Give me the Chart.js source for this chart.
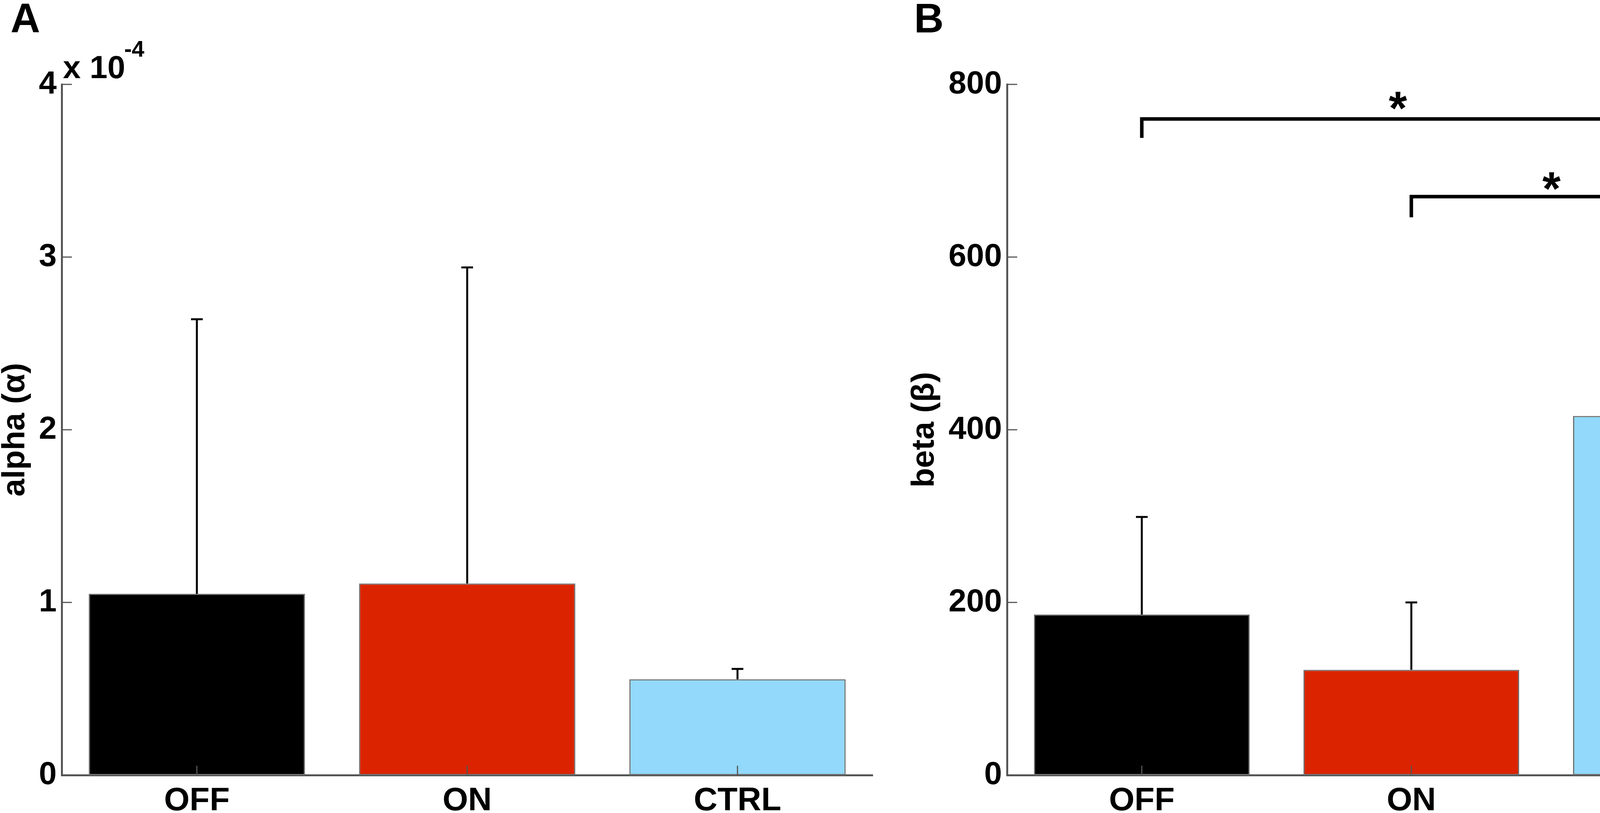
<!DOCTYPE html>
<html><head><meta charset="utf-8">
<script src="https://cdn.jsdelivr.net/npm/chart.js@4.4.1/dist/chart.umd.min.js"></script>
<style>
html,body{margin:0;padding:0;background:#fff;width:4663px;height:2081px;overflow:hidden}
canvas{position:absolute;top:0}
#cA{left:0}
#cB{left:2300px}
</style></head><body>
<canvas id="cA" width="2300" height="2081"></canvas>
<canvas id="cB" width="2363" height="2081"></canvas>
<script>
// ---------- data ----------
const categories = ['OFF', 'ON', 'CTRL'];
const barColors = ['#000000', '#DC2300', '#92D9FB'];

const alphaMultiplier = 1e-4;
const alphaMeans  = [1.05e-4, 1.11e-4, 0.555e-4];
const alphaErrors = [1.59e-4, 1.83e-4, 0.06e-4];
const alphaTicks  = [0, 1, 2, 3, 4];

const betaMeans  = [186, 122, 416];
const betaErrors = [113, 78, 204];
const betaTicks  = [0, 200, 400, 600, 800];

// significance brackets (panel B)
const sigFrom  = [0, 1];
const sigTo    = [2, 2];
const sigLevel = [760, 670];
const sigDrop  = [22, 24];
const sigStarX = [0.95, 1.52];
const sigStarY = [781, 688];
const sigLabel = ['*', '*'];

// ---------- styling ----------
const FONT = "'Liberation Sans', Arial, Helvetica, sans-serif";
const AXIS_COLOR = '#555555';

const errorBarPlugin = {
  id: 'errbars',
  afterDatasetsDraw(chart, args, o) {
    const {ctx, chartArea} = chart;
    const x = chart.scales.x, y = chart.scales.y;
    ctx.save();
    ctx.strokeStyle = '#000';
    ctx.lineCap = 'butt';
    o.means.forEach((m, i) => {
      const px = x.getPixelForValue(i);
      const y0 = y.getPixelForValue(m);
      const y1 = y.getPixelForValue(m + o.errors[i]);
      ctx.lineWidth = 5;
      ctx.beginPath(); ctx.moveTo(px, y0); ctx.lineTo(px, y1); ctx.stroke();
      ctx.beginPath(); ctx.moveTo(px - 15, y1); ctx.lineTo(px + 15, y1); ctx.stroke();
    });
    // inward tick marks
    ctx.strokeStyle = AXIS_COLOR;
    ctx.lineWidth = 3;
    y.ticks.forEach((t, i) => {
      const py = y.getPixelForTick(i);
      ctx.beginPath(); ctx.moveTo(chartArea.left, py); ctx.lineTo(chartArea.left + 26, py); ctx.stroke();
    });
    x.ticks.forEach((t, i) => {
      const px = x.getPixelForTick(i);
      ctx.beginPath(); ctx.moveTo(px, chartArea.bottom); ctx.lineTo(px, chartArea.bottom - 24); ctx.stroke();
    });
    ctx.restore();
  }
};

const decorPlugin = {
  id: 'decor',
  afterDraw(chart, args, o) {
    const {ctx, chartArea} = chart;
    ctx.save();
    ctx.fillStyle = '#000';
    ctx.textAlign = 'left';
    ctx.textBaseline = 'alphabetic';
    ctx.font = 'bold 105px ' + FONT;
    ctx.fillText(o.letter, o.letterX, 83);
    if (o.multiplier) {
      ctx.font = 'bold 82px ' + FONT;
      ctx.fillText('x 10', chartArea.left + 3, chartArea.top - 16);
      ctx.font = 'bold 58px ' + FONT;
      ctx.fillText('-4', chartArea.left + 160, chartArea.top - 71);
    }
    if (o.brackets) {
      const x = chart.scales.x, y = chart.scales.y;
      const p0 = x.getPixelForValue(0), p1 = x.getPixelForValue(1);
      const cat = v => p0 + v * (p1 - p0);
      ctx.strokeStyle = '#000';
      ctx.lineWidth = 9;
      ctx.lineCap = 'butt';
      ctx.lineJoin = 'miter';
      sigFrom.forEach((f, i) => {
        const xa = x.getPixelForValue(f), xb = x.getPixelForValue(sigTo[i]);
        const yt = y.getPixelForValue(sigLevel[i]);
        const yb = y.getPixelForValue(sigLevel[i] - sigDrop[i]);
        ctx.beginPath();
        ctx.moveTo(xa, yb); ctx.lineTo(xa, yt); ctx.lineTo(xb, yt); ctx.lineTo(xb, yb);
        ctx.stroke();
        ctx.font = 'bold 120px ' + FONT;
        ctx.textAlign = 'center';
        const m = ctx.measureText(sigLabel[i]);
        const asc = m.actualBoundingBoxAscent, desc = m.actualBoundingBoxDescent;
        const cy = y.getPixelForValue(sigStarY[i]);
        ctx.fillText(sigLabel[i], cat(sigStarX[i]), cy + (asc - desc) / 2);
      });
    }
    ctx.restore();
  }
};

function makeChart(id, cfg) {
  return new Chart(document.getElementById(id), {
    type: 'bar',
    data: {
      labels: categories,
      datasets: [{
        data: cfg.means,
        backgroundColor: barColors,
        borderColor: '#707070',
        borderWidth: 3,
        borderSkipped: false,
        barPercentage: 0.8,
        categoryPercentage: 1.0
      }]
    },
    plugins: [errorBarPlugin, decorPlugin],
    options: {
      responsive: false,
      animation: false,
      devicePixelRatio: 1,
      layout: { padding: { top: 216, right: cfg.padRight, left: 0, bottom: 0 } },
      plugins: {
        legend: { display: false },
        tooltip: { enabled: false },
        errbars: { means: cfg.means, errors: cfg.errors },
        decor: { letter: cfg.letter, letterX: cfg.letterX, multiplier: cfg.multiplier, brackets: cfg.brackets }
      },
      scales: {
        x: {
          offset: true,
          grid: { display: false, drawTicks: false },
          border: { display: true, color: AXIS_COLOR, width: 5 },
          ticks: {
            color: '#000', padding: 16, maxRotation: 0, autoSkip: false,
            font: { family: FONT, size: 84, weight: 'bold' }
          },
          afterFit: s => { s.height = 97; }
        },
        y: {
          min: cfg.min, max: cfg.max,
          grid: { display: false, drawTicks: false },
          border: { display: true, color: AXIS_COLOR, width: 5 },
          afterBuildTicks: s => { s.ticks = cfg.tickValues.map(v => ({ value: v })); },
          ticks: {
            color: '#000', padding: 13,
            font: { family: FONT, size: 82, weight: 'bold' },
            callback: (v, i) => String(cfg.tickLabels[i])
          },
          title: {
            display: true, text: cfg.title, color: '#000',
            font: { family: FONT, size: 82, weight: 'bold', lineHeight: 1 },
            padding: { top: cfg.titlePad, bottom: 0 }
          },
          afterFit: s => { s.width = cfg.yWidth; }
        }
      }
    }
  });
}

makeChart('cA', {
  means: alphaMeans, errors: alphaErrors,
  min: 0, max: 4 * alphaMultiplier,
  tickValues: alphaTicks.map(t => t * alphaMultiplier), tickLabels: alphaTicks,
  title: 'alpha (\u03B1)', titlePad: -2,
  yWidth: 158, padRight: 66,
  letter: 'A', letterX: 27, multiplier: true, brackets: false
});

makeChart('cB', {
  means: betaMeans, errors: betaErrors,
  min: 0, max: 800,
  tickValues: betaTicks, tickLabels: betaTicks,
  title: 'beta (\u03B2)', titlePad: 26,
  yWidth: 278, padRight: 15,
  letter: 'B', letterX: 40, multiplier: false, brackets: true
});
</script>
</body></html>
